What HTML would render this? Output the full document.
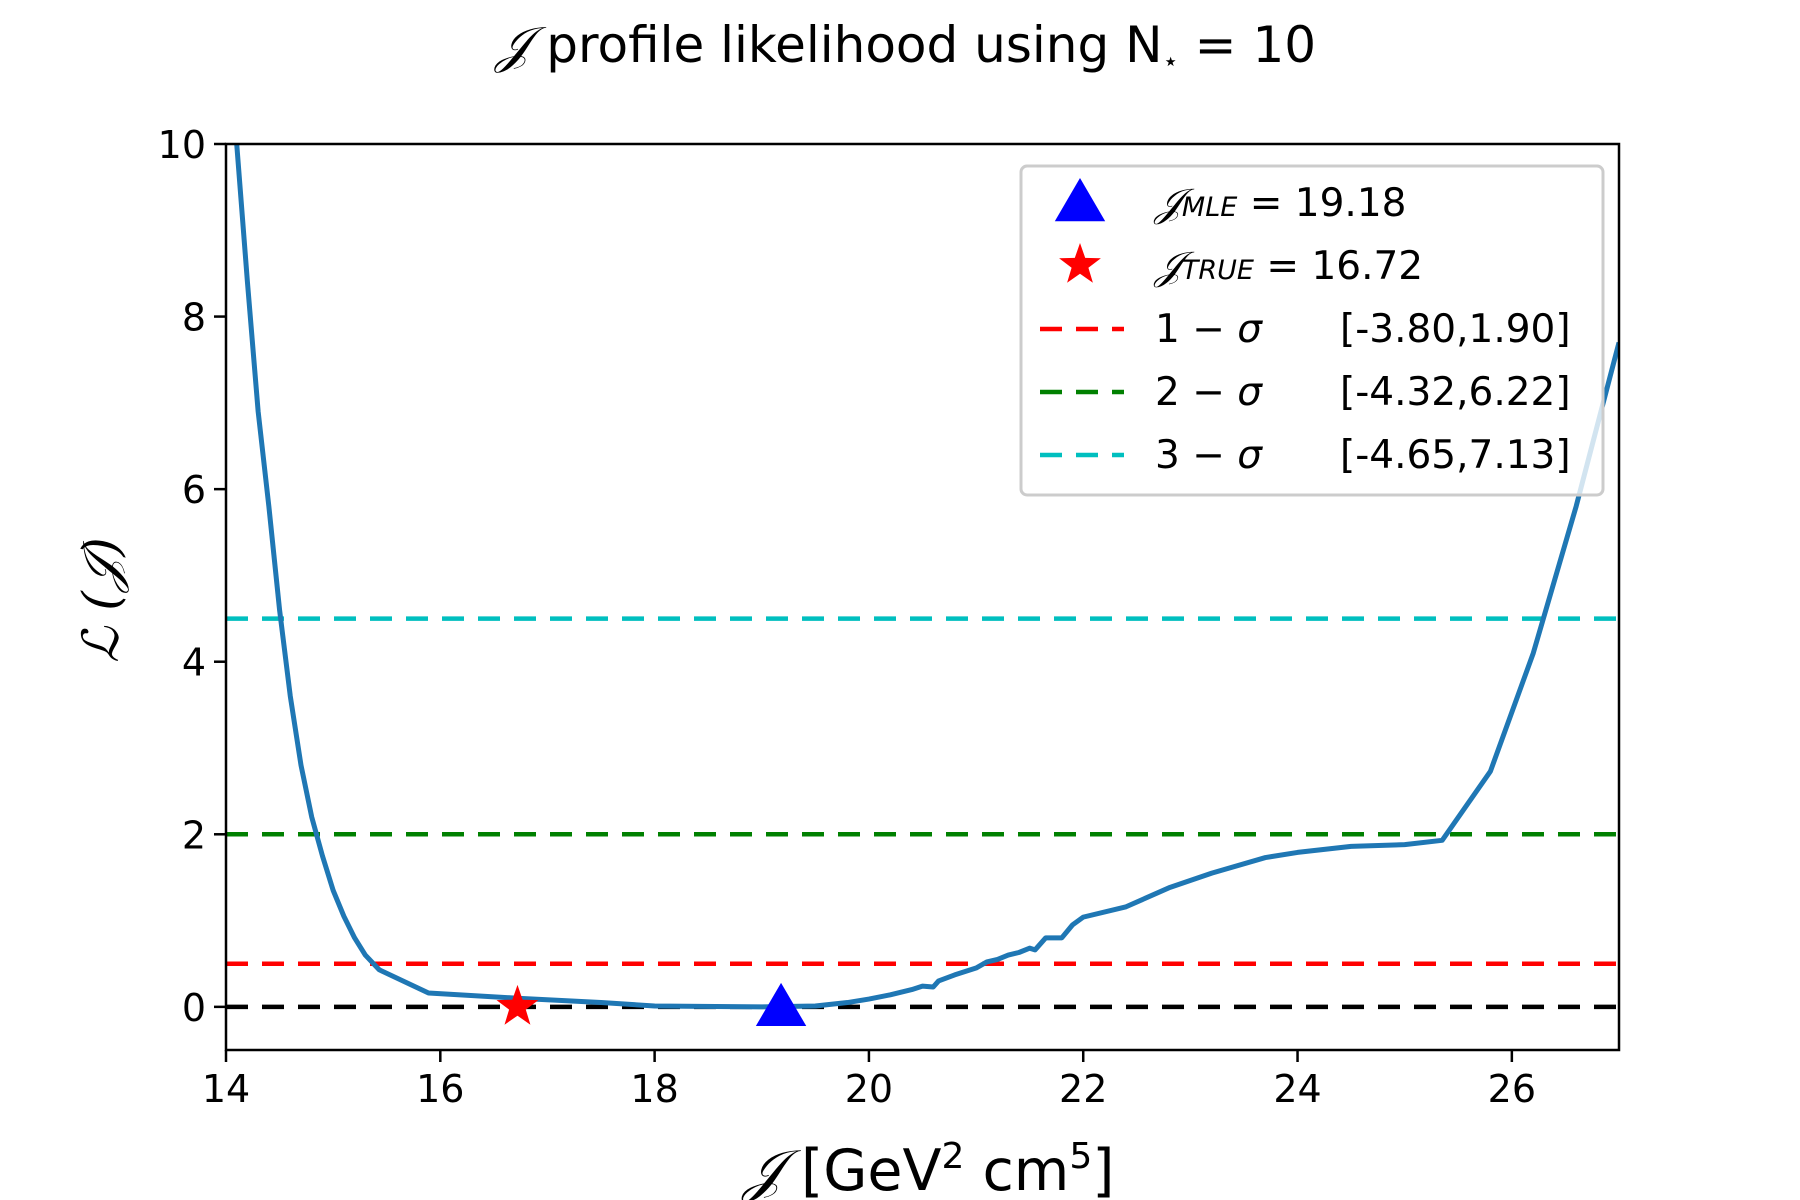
<!DOCTYPE html>
<html><head><meta charset="utf-8"><style>
html,body{margin:0;padding:0;background:#fff;}
svg{display:block;font-family:"DejaVu Sans","Liberation Sans",sans-serif;}
</style></head><body>
<svg id="chart" width="1800" height="1200" viewBox="0 0 1800 1200" xmlns="http://www.w3.org/2000/svg">
<rect width="1800" height="1200" fill="#fff"/>
<text x="906" y="62" font-size="50" text-anchor="middle"><tspan font-family="DejaVu Serif" font-style="italic">𝒥</tspan> profile likelihood using N<tspan font-size="26" dy="8">⋆</tspan><tspan dy="-8"> = 10</tspan></text>
<g id="plot"></g>
<text x="929" y="1190" font-size="57" text-anchor="middle"><tspan font-family="DejaVu Serif" font-style="italic">𝒥</tspan> [GeV<tspan font-size="36" dy="-22">2</tspan><tspan dy="22">  cm</tspan><tspan font-size="36" dy="-22">5</tspan><tspan dy="22">]</tspan></text>
<text transform="translate(118,600) rotate(-90)" font-size="50" text-anchor="middle" font-family="DejaVu Serif" font-style="italic">ℒ (𝒥)</text>
</svg>
<script>
const xs=[14.1,14.2,14.3,14.4,14.5,14.6,14.7,14.8,14.9,15.0,15.1,15.2,15.3,15.43,15.89,16.72,17.5,18,19,19.5,19.8,20,20.2,20.4,20.5,20.6,20.65,20.8,21,21.1,21.2,21.3,21.4,21.5,21.55,21.65,21.8,21.9,22,22.4,22.8,23.2,23.7,24,24.5,25,25.35,25.8,26.2,26.6,27];
const ys=[10,8.4,6.9,5.8,4.6,3.6,2.8,2.2,1.75,1.35,1.05,0.8,0.6,0.43,0.16,0.1,0.05,0.01,0,0.01,0.05,0.09,0.14,0.2,0.24,0.23,0.3,0.37,0.45,0.52,0.55,0.6,0.63,0.68,0.66,0.8,0.8,0.95,1.04,1.16,1.38,1.55,1.73,1.79,1.86,1.88,1.93,2.73,4.1,5.8,7.7];
const hLines=[0,0.5,2,4.5];
const hColors=['#000','#ff0000','#008000','#00bfbf'];
const hNames=['zero-line','one-sigma-line','two-sigma-line','three-sigma-line'];
const xTicks=[14,16,18,20,22,24,26];
const yTicks=[0,2,4,6,8,10];
const mle=[19.18,0];
const truth=[16.72,0];
const legendLabels=['1 − σ','2 − σ','3 − σ'];
const legendRanges=['[-3.80,1.90]','[-4.32,6.22]','[-4.65,7.13]'];

const L=226,R=1619,T=144,B=1050,x0=14,x1=27,y0=-0.5,y1=10;
const sx=v=>L+(v-x0)/(x1-x0)*(R-L);
const sy=v=>B-(v-y0)/(y1-y0)*(B-T);
const NS='http://www.w3.org/2000/svg';
const g=document.getElementById('plot');
function mk(t,a,p){const e=document.createElementNS(NS,t);for(const k in a)e.setAttribute(k,a[k]);(p||g).appendChild(e);return e;}
const clip=mk('clipPath',{id:'cp'});mk('rect',{x:L,y:T,width:R-L,height:B-T},clip);
hLines.forEach((v,i)=>{const l=mk('line',{x1:L,x2:R,y1:sy(v),y2:sy(v),stroke:hColors[i],'stroke-width':4.5,'stroke-dasharray':'22 14'});

});
const pl=mk('polyline',{points:xs.map((x,i)=>sx(x)+','+sy(ys[i])).join(' '),fill:'none',stroke:'#1f77b4','stroke-width':5,'stroke-linejoin':'round','clip-path':'url(#cp)'});


function star(cx,cy,r){let p=[];for(let i=0;i<10;i++){const rr=i%2?r*0.4:r;const a=-Math.PI/2+i*Math.PI/5;p.push((cx+rr*Math.cos(a)).toFixed(1)+','+(cy+rr*Math.sin(a)).toFixed(1));}return p.join(' ');}
function tri(cx,cy,r){return `${cx},${cy-r} ${cx-r*1.05},${cy+r*0.8} ${cx+r*1.05},${cy+r*0.8}`;}
const st=mk('polygon',{points:star(sx(truth[0]),sy(truth[1]),22),fill:'#ff0000'});


const tr=mk('polygon',{points:tri(sx(mle[0]),sy(mle[1]),24),fill:'#0000ff'});


const fr=mk('rect',{x:L,y:T,width:R-L,height:B-T,fill:'none',stroke:'#000','stroke-width':2.5});


xTicks.forEach(v=>{mk('line',{x1:sx(v),x2:sx(v),y1:B,y2:B+12,stroke:'#000','stroke-width':2.5});
const t=mk('text',{x:sx(v),y:B+52,'font-size':38,'text-anchor':'middle'});t.textContent=v;

});
yTicks.forEach(v=>{mk('line',{x1:L-12,x2:L,y1:sy(v),y2:sy(v),stroke:'#000','stroke-width':2.5});
const t=mk('text',{x:L-20,y:sy(v)+14,'font-size':38,'text-anchor':'end'});t.textContent=v;

});
// legend
const lg=mk('g',{});


mk('rect',{x:1021,y:166,width:582,height:329,rx:6,fill:'#fff','fill-opacity':0.8,stroke:'#ccc','stroke-width':3},lg);
mk('polygon',{points:tri(1080,202,24),fill:'#0000ff'},lg);
mk('polygon',{points:star(1080,265,22),fill:'#ff0000'},lg);
let t1=mk('text',{x:1155,y:216,'font-size':39},lg);t1.innerHTML='<tspan font-family="DejaVu Serif" font-style="italic">𝒥</tspan><tspan font-size="27" font-style="italic">MLE</tspan> = 19.18';


let t2=mk('text',{x:1155,y:279,'font-size':39},lg);t2.innerHTML='<tspan font-family="DejaVu Serif" font-style="italic">𝒥</tspan><tspan font-size="27" font-style="italic">TRUE</tspan> = 16.72';


legendLabels.forEach((s,i)=>{const y=329+i*63;
mk('line',{x1:1040,x2:1124,y1:y,y2:y,stroke:hColors[i+1],'stroke-width':4.5,'stroke-dasharray':'22 14'},lg);
const a=mk('text',{x:1155,y:y+13,'font-size':39},lg);a.innerHTML=s.replace('σ','<tspan font-style="italic">σ</tspan>');


const b=mk('text',{x:1340,y:y+13,'font-size':39},lg);b.textContent=legendRanges[i];

});
</script>
</body></html>
